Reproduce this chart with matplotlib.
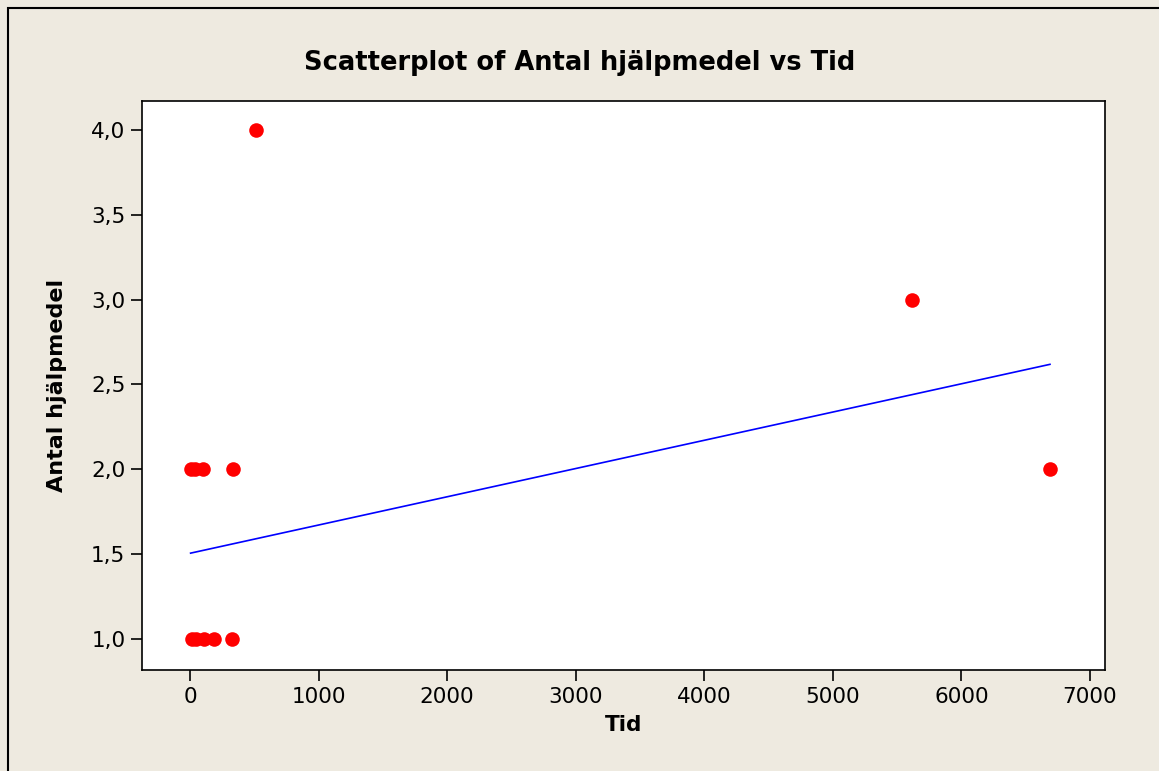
import numpy as np
import matplotlib.pyplot as plt
from matplotlib.ticker import FuncFormatter
from matplotlib.patches import Rectangle

# data
tid = [5, 40, 100, 335, 15, 50, 110, 190, 325, 513, 5615, 6689]
antal = [2, 2, 2, 2, 1, 1, 1, 1, 1, 4, 3, 2]
# fitted line (from the picture)
fit_intercept = 1.505
fit_slope = 0.0001665
xticks = [0, 1000, 2000, 3000, 4000, 5000, 6000, 7000]
yticks = [1.0, 1.5, 2.0, 2.5, 3.0, 3.5, 4.0]

bg = '#eeeae0'
fig = plt.figure(figsize=(11.59, 7.71), dpi=100, facecolor=bg)
fig.patches.append(Rectangle((8/1159, -0.1), 1.2, 1.1 - 8/771, transform=fig.transFigure,
                             fill=False, edgecolor='black', linewidth=1.5))
ax = fig.add_axes([142/1159, 1-670/771, (1105-142)/1159, (670-101)/771])
ax.set_facecolor('white')

xs = np.array([min(tid), max(tid)])
ax.plot(xs, fit_intercept + fit_slope*xs, color='blue', linewidth=1.2)
ax.scatter(tid, antal, s=110, color='red', zorder=3, linewidths=0)

ax.set_xlim(-373, 7117)
ax.set_ylim(0.817, 4.171)
ax.set_xticks(xticks)
ax.set_yticks(yticks)
ax.yaxis.set_major_formatter(FuncFormatter(lambda v, p: f'{v:.1f}'.replace('.', ',')))
ax.tick_params(direction='out', length=8, width=1.2, labelsize=15.5, pad=4)
for s in ax.spines.values():
    s.set_linewidth(1.2)

fig.text(0.5, 1-63/771, 'Scatterplot of Antal hjälpmedel vs Tid', fontsize=18.5,
         fontweight='bold', ha='center', va='center')
ax.set_xlabel('Tid', fontsize=15.5, fontweight='bold', labelpad=6)
ax.set_ylabel('Antal hjälpmedel', fontsize=16, fontweight='bold', labelpad=17)

fig.savefig('out.png', dpi=100, facecolor=bg)
